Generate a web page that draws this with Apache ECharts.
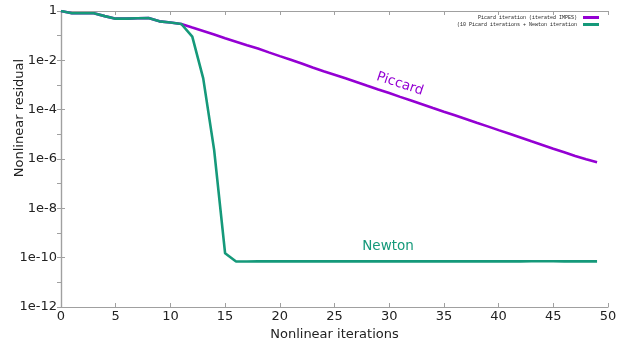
<!DOCTYPE html>
<html><head><meta charset="utf-8">
<script src="https://cdn.jsdelivr.net/npm/echarts@6/dist/echarts.min.js"></script>
<style>html,body{margin:0;padding:0;background:#fff}#c{width:626px;height:341px}</style>
</head><body><div id="c"></div>
<script>
const iterations = Array.from({length: 50}, (_, i) => i);
const picardResidual = [1, 0.81, 0.81, 0.81, 0.62, 0.49, 0.49, 0.51, 0.52, 0.38, 0.34, 0.297,
  0.214, 0.155, 0.112, 0.079, 0.057, 0.041, 0.030, 0.021, 0.0148, 0.0105, 0.0074, 0.0051, 0.0036,
  0.0026, 0.00186, 0.00132, 9.3e-4, 6.6e-4, 4.7e-4, 3.3e-4, 2.35e-4, 1.66e-4, 1.17e-4, 8.3e-5,
  5.9e-5, 4.2e-5, 2.95e-5, 2.1e-5, 1.48e-5, 1.05e-5, 7.4e-6, 5.2e-6, 3.7e-6, 2.6e-6, 1.86e-6,
  1.32e-6, 9.8e-7, 7.4e-7];
const newtonResidual = [1, 0.81, 0.81, 0.81, 0.62, 0.49, 0.49, 0.51, 0.52, 0.38, 0.34, 0.297,
  0.091, 1.86e-3, 2.3e-6, 1.5e-10, 7.0e-11, 7.0e-11, 7.2e-11, 7.1e-11, 7.1e-11, 7.2e-11, 7.1e-11,
  7.1e-11, 7.2e-11, 7.1e-11, 7.1e-11, 7.2e-11, 7.1e-11, 7.2e-11, 7.1e-11, 7.1e-11, 7.1e-11, 7.1e-11,
  7.2e-11, 7.1e-11, 7.1e-11, 7.1e-11, 7.1e-11, 7.1e-11, 7.1e-11, 7.1e-11, 7.1e-11, 7.2e-11, 7.2e-11,
  7.2e-11, 7.1e-11, 7.1e-11, 7.1e-11, 7.1e-11];
const seriesNames = ['Picard iteration (iterated IMPES)', '(10 Picard iterations + Newton iteration'];

const PURPLE = '#9400d3', GREEN = '#15997a', AXIS = '#a0a0a0';
const FONT = '"DejaVu Sans", sans-serif';

function yLabel(v) {
  const e = Math.round(Math.log10(v));
  return e === 0 ? '1' : '1e' + e;
}

const chart = echarts.init(document.getElementById('c'), null, {renderer: 'canvas'});
const axisLine = {show: true, lineStyle: {color: AXIS, width: 1.2}};
const tick = {show: true, inside: true, length: 4, lineStyle: {color: AXIS}};
chart.setOption({
  animation: false,
  backgroundColor: '#fff',
  grid: {left: 61, right: 18, top: 11, bottom: 34, containLabel: false, outerBoundsMode: 'none'},
  legend: {
    orient: 'vertical', right: 22, top: 10, align: 'right', itemGap: 2,
    itemWidth: 16, itemHeight: 3, icon: 'rect',
    textStyle: {fontFamily: '"Liberation Mono", "DejaVu Sans Mono", monospace', fontSize: 5, color: '#222', padding: [0, 1, 0, 0]},
    data: seriesNames
  },
  xAxis: [{
    type: 'value', min: 0, max: 50, interval: 5,
    axisLine: axisLine, splitLine: {show: false}, axisTick: tick,
    axisLabel: {fontFamily: FONT, fontSize: 13, color: '#222', margin: 3},
    name: 'Nonlinear iterations', nameLocation: 'middle', nameGap: 15,
    nameTextStyle: {fontFamily: FONT, fontSize: 13, color: '#222'}
  }, {
    type: 'value', min: 0, max: 50, interval: 5, position: 'top',
    axisLine: axisLine, splitLine: {show: false}, axisTick: tick,
    axisLabel: {show: false}
  }],
  yAxis: [{
    type: 'log', logBase: 10, min: 1e-12, max: 1, interval: 2,
    axisLine: axisLine, splitLine: {show: false}, axisTick: tick,
    axisLabel: {fontFamily: FONT, fontSize: 13, color: '#222', margin: 4, formatter: yLabel}
  }, {
    type: 'log', logBase: 10, min: 1e-12, max: 1, interval: 1, position: 'right',
    axisLine: axisLine, splitLine: {show: false}, axisTick: tick,
    axisLabel: {show: false}
  }],
  series: [{
    name: seriesNames[0], type: 'line', showSymbol: false, symbol: 'none',
    data: iterations.map((x, i) => [x, picardResidual[i]]),
    lineStyle: {color: PURPLE, width: 2.6}, itemStyle: {color: PURPLE}, z: 2
  }, {
    name: seriesNames[1], type: 'line', showSymbol: false, symbol: 'none',
    data: iterations.map((x, i) => [x, newtonResidual[i]]),
    lineStyle: {color: GREEN, width: 2.6}, itemStyle: {color: GREEN}, z: 3
  }],
  graphic: [
    {type: 'text', x: 20, y: 118, rotation: Math.PI / 2, style: {text: 'Nonlinear residual', fontFamily: FONT, fontSize: 13, fill: '#222', align: 'center', verticalAlign: 'middle'}},
    {type: 'text', x: 400, y: 84, rotation: -0.32, style: {text: 'Piccard', fontFamily: FONT, fontSize: 13.5, fill: PURPLE, align: 'center', verticalAlign: 'middle'}},
    {type: 'text', x: 388, y: 246, style: {text: 'Newton', fontFamily: FONT, fontSize: 13.5, fill: GREEN, align: 'center', verticalAlign: 'middle'}}
  ]
});
</script></body></html>
